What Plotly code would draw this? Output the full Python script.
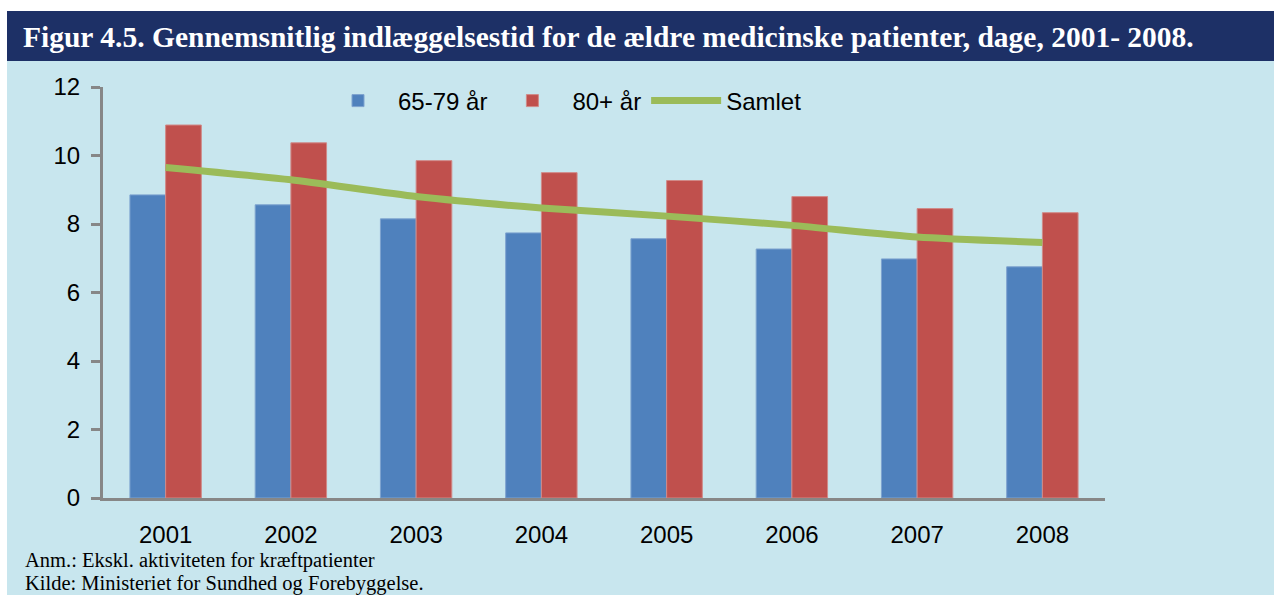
import plotly.graph_objects as go

years = ["2001", "2002", "2003", "2004", "2005", "2006", "2007", "2008"]
age_65_79 = [8.85, 8.56, 8.15, 7.74, 7.57, 7.27, 6.98, 6.75]
age_80p = [10.89, 10.37, 9.85, 9.50, 9.27, 8.80, 8.45, 8.33]
samlet = [9.65, 9.29, 8.80, 8.47, 8.23, 7.96, 7.62, 7.46]

W, H = 1274, 595
L, R, T, B = 103, 1274 - 1105, 87, 595 - 498
PW, PH = W - L - R, H - T - B

def xp(px):
    return (px - L) / PW

def yp(py):
    return (H - py - B) / PH

fig = go.Figure()
fig.add_trace(go.Bar(name="65-79 år", x=years, y=age_65_79,
                     marker=dict(color="#4f81bd", line=dict(color="#7ea3cf", width=1))))
fig.add_trace(go.Bar(name="80+ år", x=years, y=age_80p,
                     marker=dict(color="#c0504d", line=dict(color="#d08a88", width=1))))
fig.add_trace(go.Scatter(name="Samlet", x=years, y=samlet, mode="lines",
                         line=dict(color="#9bbb59", width=7, shape="spline", smoothing=0.6)))

shapes = [
    dict(type="rect", xref="paper", yref="paper", x0=xp(0), x1=xp(W), y0=yp(11), y1=yp(0),
         fillcolor="white", line=dict(width=0), layer="below"),
    dict(type="rect", xref="paper", yref="paper", x0=xp(0), x1=xp(7), y0=yp(H), y1=yp(0),
         fillcolor="white", line=dict(width=0), layer="below"),
    dict(type="rect", xref="paper", yref="paper", x0=xp(7), x1=xp(W), y0=yp(61), y1=yp(11),
         fillcolor="#1d3066", line=dict(width=0), layer="below"),
]

annotations = [
    dict(text="<b>Figur 4.5. Gennemsnitlig indlæggelsestid for de ældre medicinske patienter, dage, 2001- 2008.</b>",
         xref="paper", yref="paper", x=xp(21), y=yp(37), xanchor="left", yanchor="middle",
         showarrow=False, font=dict(family="Liberation Serif", size=29.5, color="white")),
    dict(text="Anm.: Ekskl. aktiviteten for kræftpatienter",
         xref="paper", yref="paper", x=xp(23), y=yp(560), xanchor="left", yanchor="middle",
         showarrow=False, font=dict(family="Liberation Serif", size=20.5, color="black")),
    dict(text="Kilde: Ministeriet for Sundhed og Forebyggelse.",
         xref="paper", yref="paper", x=xp(23), y=yp(583), xanchor="left", yanchor="middle",
         showarrow=False, font=dict(family="Liberation Serif", size=20.5, color="black")),
]

fig.update_layout(
    width=W, height=H,
    margin=dict(l=L, r=R, t=T, b=B, pad=0),
    paper_bgcolor="#c8e6ee",
    plot_bgcolor="#c8e6ee",
    barmode="group",
    bargap=0.43,
    bargroupgap=0,
    shapes=shapes,
    annotations=annotations,
    font=dict(family="Liberation Sans", size=24, color="black"),
    legend=dict(orientation="h", x=xp(318), y=yp(101), xanchor="left", yanchor="middle",
                bgcolor="rgba(0,0,0,0)", font=dict(size=24), itemwidth=70, traceorder="normal"),
    xaxis=dict(showline=True, linecolor="#878787", linewidth=3, ticks="", showgrid=False,
               ticklabelstandoff=13, tickfont=dict(size=24)),
    yaxis=dict(range=[0, 12], dtick=2, showline=True, linecolor="#878787", linewidth=3,
               ticks="outside", ticklen=9, tickwidth=3, tickcolor="#878787",
               showgrid=False, zeroline=False, tickfont=dict(size=24), ticklabelstandoff=6),
)

fig.write_html("out.html", config={"displayModeBar": False},
               post_script="document.body.style.margin='0';document.body.style.overflow='hidden';")
